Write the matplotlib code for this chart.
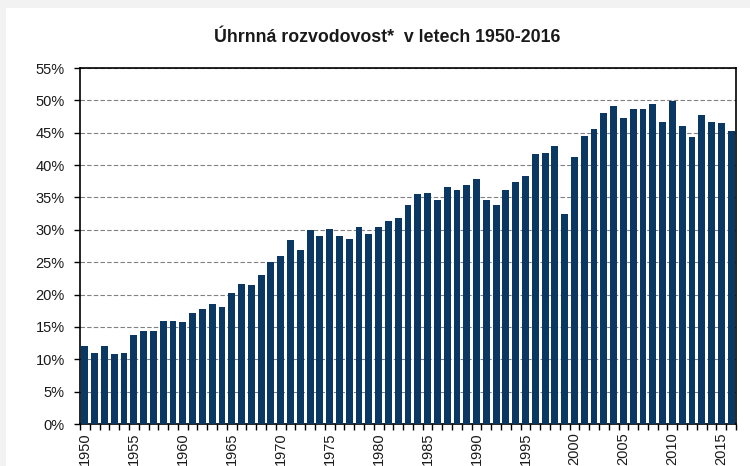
import matplotlib.pyplot as plt
import matplotlib.patches as mpatches
import numpy as np
from matplotlib.ticker import FuncFormatter

plt.rcParams['font.family'] = ['Liberation Sans', 'DejaVu Sans']

# Data (total divorce rate, %)
years = list(range(1950, 2017))
rate = [12.0, 11.0, 12.0, 10.8, 11.0, 13.8, 14.4, 14.4, 15.9, 15.9,
        15.7, 17.2, 17.7, 18.5, 18.1, 20.2, 21.7, 21.5, 23.0, 25.1,
        26.0, 28.4, 26.9, 30.0, 29.0, 30.1, 29.0, 28.6, 30.5, 29.3,
        30.5, 31.4, 31.8, 33.8, 35.5, 35.7, 34.6, 36.6, 36.2, 37.0,
        37.8, 34.6, 33.8, 36.2, 37.4, 38.3, 41.7, 41.9, 43.0, 32.5,
        41.3, 44.5, 45.6, 48.0, 49.2, 47.3, 48.6, 48.6, 49.5, 46.7,
        49.9, 46.0, 44.3, 47.7, 46.7, 46.5, 45.2]
title = 'Úhrnná rozvodovost*  v letech 1950-2016'

fig = plt.figure(figsize=(7.5, 4.66), dpi=100, facecolor='#f2f2f2')
fig.patches.append(mpatches.Rectangle((6 / 750, 0), 1, 1 - 8 / 466,
                                      transform=fig.transFigure,
                                      facecolor='white', edgecolor='none',
                                      zorder=-5))

ax = fig.add_axes([80 / 750, 1 - 424 / 466, 656 / 750, 356 / 466])
ax.set_facecolor('white')
x = np.arange(len(years))
ax.bar(x, rate, width=0.7, color='#0b3763', zorder=3)

ax.set_xlim(-0.5, len(years) - 0.5)
ax.set_ylim(0, 55)
ax.set_yticks(np.arange(0, 56, 5))
ax.yaxis.set_major_formatter(FuncFormatter(lambda v, p: f'{v:.0f}%'))
ax.grid(axis='y', linestyle=(0, (4, 2)), color='#808080', linewidth=0.8, zorder=0)
ax.set_axisbelow(True)

ax.set_xticks(x[::5])
ax.set_xticklabels([str(y) for y in years[::5]], rotation=90)
ax.set_xticks(np.arange(-0.5, len(years), 1), minor=True)
ax.tick_params(axis='x', which='major', length=0, pad=6, labelsize=10.5,
               labelcolor='#1a1a1a')
ax.tick_params(axis='x', which='minor', length=4, width=1, direction='out')
ax.tick_params(axis='y', length=4, width=1, labelsize=10.5, pad=7,
               labelcolor='#1a1a1a')

for s in ax.spines.values():
    s.set_linewidth(1.2)
    s.set_color('black')

fig.text(387 / 750, 1 - 38 / 466, title, ha='center', va='center',
         fontsize=12.8, fontweight='bold', color='#1a1a1a')

fig.savefig('out.png', dpi=100, facecolor=fig.get_facecolor())
